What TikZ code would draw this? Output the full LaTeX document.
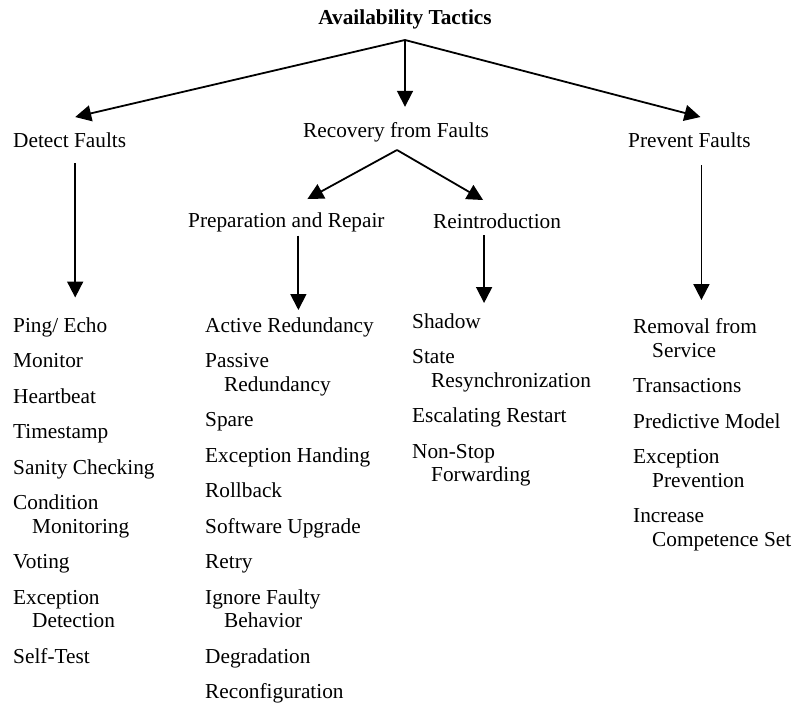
\documentclass[tikz,border=0pt]{standalone}
\usepackage{fontspec}
\setmainfont{Liberation Serif}
\usetikzlibrary{arrows.meta}

\begin{document}
\begin{tikzpicture}[x=1pt, y=-1pt,
  font=\fontsize{21.3}{23.5}\selectfont,
  main/.style = {inner sep=0pt, anchor=base west},
  list/.style = {inner sep=0pt, anchor=north west, align=left},
  arr/.style = {line width=1.8pt, -{Triangle[length=16pt,width=16pt]}}]
\useasboundingbox (0,0) rectangle (794,702);

\node[inner sep=0pt, anchor=base, font=\fontsize{21.3}{23.5}\selectfont\bfseries] (tactics) at (405,24) {Availability Tactics};
\coordinate (top) at (405,40);

\node[main] (detect) at (13,147) {Detect Faults};
\node[main] (recovery) at (303,137) {Recovery from Faults};
\node[main] (prevent) at (628,147) {Prevent Faults};

\coordinate (rtop) at (397,150);
\node[main] (prep) at (188,227) {Preparation and Repair};
\node[main] (reintro) at (433,228) {Reintroduction};

% tactic lists
\node[list] (dlist) at (13,317.5) {Ping/ Echo\\[12pt]Monitor\\[12pt]Heartbeat\\[12pt]Timestamp\\[12pt]Sanity Checking\\[12pt]Condition\\\hspace*{19pt}Monitoring\\[12pt]Voting\\[12pt]Exception\\\hspace*{19pt}Detection\\[12pt]Self-Test};
\node[list] (plist) at (205,317.5) {Active Redundancy\\[12pt]Passive\\\hspace*{19pt}Redundancy\\[12pt]Spare\\[12pt]Exception Handing\\[12pt]Rollback\\[12pt]Software Upgrade\\[12pt]Retry\\[12pt]Ignore Faulty\\\hspace*{19pt}Behavior\\[12pt]Degradation\\[12pt]Reconfiguration};
\node[list] (rlist) at (412,313.5) {Shadow\\[12pt]State\\\hspace*{19pt}Resynchronization\\[12pt]Escalating Restart\\[12pt]Non-Stop\\\hspace*{19pt}Forwarding};
\node[list] (vlist) at (633,318.5) {Removal from\\\hspace*{19pt}Service\\[12pt]Transactions\\[12pt]Predictive Model\\[12pt]Exception\\\hspace*{19pt}Prevention\\[12pt]Increase\\\hspace*{19pt}Competence Set};

\draw[arr] (top) -- ([xshift=5.5pt,yshift=15pt]detect.north);
\draw[arr, shorten >=15pt] (top) -- (top |- recovery.north);
\draw[arr] (top) -- ([xshift=11pt,yshift=15pt]prevent.north);

\draw[arr] (rtop) -- ([xshift=21pt,yshift=13pt]prep.north);
\draw[arr] (rtop) -- ([xshift=-14pt,yshift=13pt]reintro.north);

\draw[arr, shorten <=16pt, shorten >=20pt] ([xshift=5.5pt]detect.south) -- ([xshift=5.5pt]detect.south |- dlist.north);
\draw[arr, shorten <=4pt, shorten >=7.5pt] ([xshift=12pt]prep.south) -- ([xshift=12pt]prep.south |- plist.north);
\draw[arr, shorten <=7pt, shorten >=10.5pt] ([xshift=-13pt]reintro.south) -- ([xshift=-13pt]reintro.south |- rlist.north);
\draw[arr, shorten <=18pt, shorten >=18.5pt] ([xshift=12pt]prevent.south) -- ([xshift=12pt]prevent.south |- vlist.north);

\end{tikzpicture}
\end{document}
